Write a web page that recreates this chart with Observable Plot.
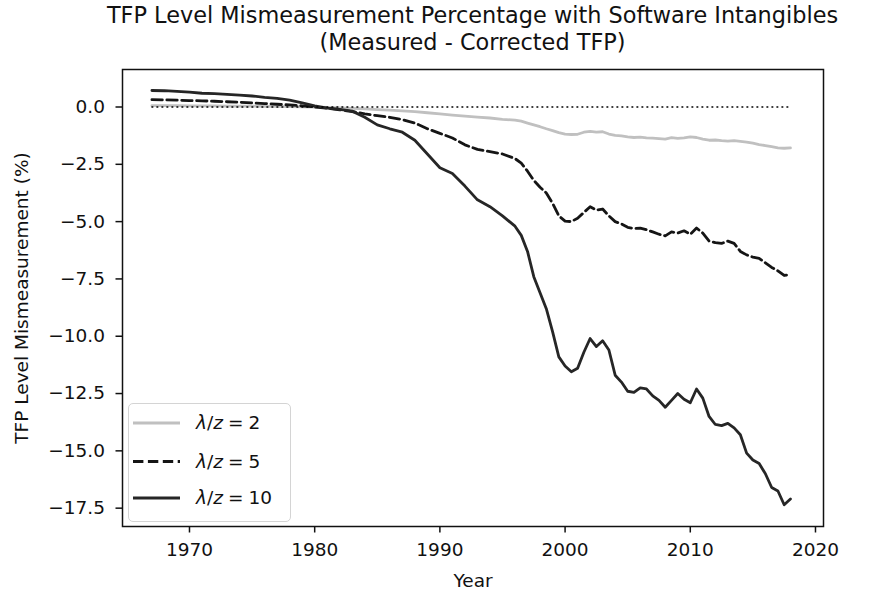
<!DOCTYPE html>
<html>
<head>
<meta charset="utf-8">
<script src="https://cdn.jsdelivr.net/npm/d3@7"></script>
<script src="https://cdn.jsdelivr.net/npm/@observablehq/plot@0.6"></script>
<style>
  html, body { margin: 0; padding: 0; background: #fff; }
  #wrap { position: relative; width: 885px; height: 594px; font-family: "DejaVu Sans", sans-serif; color: #111; }
  #title { position: absolute; left: 0; top: 0; width: 945px; text-align: center; font-size: 22.4px; line-height: 27px; padding-top: 2px; }
  #chart { position: absolute; left: 0; top: 60px; }
  #legend { position: absolute; left: 128px; top: 403px; width: 163px; height: 119px; border: 1.5px solid #d4d4d4; border-radius: 5px; background: rgba(255,255,255,0.8); box-sizing: border-box; }
</style>
</head>
<body>
<div id="wrap">
  <div id="title">TFP Level Mismeasurement Percentage with Software Intangibles<br>(Measured - Corrected TFP)</div>
  <div id="chart"></div>
  <div id="legend"></div>
</div>
<script>
const years = [
  1967, 1968, 1969, 1970, 1971, 1972, 1973, 1974, 1975, 1976,
  1977, 1978, 1979, 1980, 1981, 1982, 1983, 1984, 1985, 1986,
  1987, 1988, 1989, 1990, 1991, 1992, 1993, 1994, 1995,
  1996, 1996.5, 1997, 1997.5, 1998, 1998.5, 1999, 1999.5,
  2000, 2000.5, 2001, 2001.5, 2002, 2002.5, 2003, 2003.5,
  2004, 2004.5, 2005, 2005.5, 2006, 2006.5, 2007, 2007.5,
  2008, 2008.5, 2009, 2009.5, 2010, 2010.5, 2011, 2011.5,
  2012, 2012.5, 2013, 2013.5, 2014, 2014.5, 2015, 2015.5,
  2016, 2016.5, 2017, 2017.5, 2018
];
const lambda2 = [
  0.06, 0.06, 0.06, 0.05, 0.05, 0.05, 0.04, 0.04, 0.04, 0.03,
  0.03, 0.02, 0.01, 0.00, -0.02, -0.04, -0.06, -0.08, -0.11, -0.14,
  -0.17, -0.20, -0.25, -0.30, -0.35, -0.40, -0.44, -0.48, -0.54,
  -0.57, -0.62, -0.70, -0.78, -0.86, -0.95, -1.03, -1.12,
  -1.18, -1.20, -1.19, -1.10, -1.06, -1.10, -1.08, -1.18,
  -1.24, -1.26, -1.30, -1.33, -1.31, -1.35, -1.36, -1.38,
  -1.40, -1.34, -1.37, -1.35, -1.30, -1.33, -1.40, -1.45,
  -1.44, -1.47, -1.49, -1.47, -1.50, -1.53, -1.58, -1.64,
  -1.68, -1.73, -1.78, -1.80, -1.78
];
const lambda5 = [
  0.32, 0.31, 0.30, 0.28, 0.27, 0.25, 0.23, 0.21, 0.18, 0.15,
  0.12, 0.09, 0.05, 0.00, -0.05, -0.12, -0.20, -0.30, -0.38, -0.45,
  -0.55, -0.70, -0.95, -1.15, -1.35, -1.65, -1.85, -1.95, -2.05,
  -2.25, -2.45, -2.80, -3.20, -3.50, -3.75, -4.20, -4.75,
  -4.98, -5.00, -4.85, -4.60, -4.35, -4.50, -4.45, -4.75,
  -5.00, -5.10, -5.25, -5.30, -5.28, -5.35, -5.45, -5.55,
  -5.62, -5.45, -5.50, -5.40, -5.55, -5.28, -5.50, -5.85,
  -5.92, -5.95, -5.85, -5.95, -6.30, -6.45, -6.55, -6.60,
  -6.80, -7.00, -7.15, -7.35, -7.30
];
const lambda10 = [
  0.72, 0.71, 0.68, 0.65, 0.60, 0.58, 0.55, 0.52, 0.48, 0.42,
  0.38, 0.30, 0.18, 0.05, -0.05, -0.10, -0.18, -0.45, -0.78, -0.95,
  -1.10, -1.45, -2.05, -2.65, -2.90, -3.45, -4.05, -4.35, -4.75,
  -5.20, -5.60, -6.30, -7.40, -8.10, -8.80, -9.80, -10.90,
  -11.30, -11.55, -11.40, -10.70, -10.10, -10.45, -10.20, -10.60,
  -11.70, -12.00, -12.40, -12.45, -12.25, -12.30, -12.60, -12.80,
  -13.10, -12.80, -12.50, -12.75, -12.90, -12.30, -12.70, -13.50,
  -13.85, -13.90, -13.80, -14.00, -14.30, -15.10, -15.40, -15.55,
  -16.00, -16.60, -16.75, -17.35, -17.10
];
const seriesLabels = ["2", "5", "10"];
const xTicks = [1970, 1980, 1990, 2000, 2010, 2020];
const yTicks = [0, -2.5, -5, -7.5, -10, -12.5, -15, -17.5];

const toRows = vals => years.map((yr, i) => ({year: yr, value: vals[i]}));
const lineW = 2.8;

const chart = Plot.plot({
  width: 885,
  height: 534,
  marginLeft: 122,
  marginRight: 62,
  marginTop: 9,
  marginBottom: 68,
  style: {fontFamily: "DejaVu Sans", fontSize: "18.5px", color: "#111", background: "transparent"},
  x: {domain: [1964.65, 2020.64]},
  y: {domain: [-18.3, 1.636]},
  marks: [
    Plot.line(toRows(lambda2), {x: "year", y: "value", stroke: "#c0c0c0", strokeWidth: lineW}),
    Plot.line(toRows(lambda5), {x: "year", y: "value", stroke: "#151515", strokeWidth: lineW, strokeDasharray: "10.4,4.5"}),
    Plot.line(toRows(lambda10), {x: "year", y: "value", stroke: "#262626", strokeWidth: lineW}),
    Plot.ruleY([0], {x1: () => years[0], x2: () => years[years.length - 1], stroke: "#000", strokeWidth: 1.6, strokeDasharray: "1.9,3.1"}),
    Plot.frame({stroke: "#111", strokeWidth: 1.5}),
    Plot.axisX({ticks: xTicks, tickFormat: "d", tickSize: 6.5, tickPadding: 10, strokeWidth: 1.5, fontSize: 18.5,
      label: "Year", labelAnchor: "center", labelArrow: "none", labelOffset: 60}),
    Plot.axisY({ticks: yTicks, tickFormat: ".1f", tickSize: 6.5, tickPadding: 11, strokeWidth: 1.5, fontSize: 18.5,
      label: "TFP Level Mismeasurement (%)", labelAnchor: "center", labelArrow: "none", labelOffset: 108})
  ]
});
document.getElementById("chart").appendChild(chart);

// legend
const styles = [
  {stroke: "#c0c0c0", dash: null},
  {stroke: "#151515", dash: "10.4,4.5"},
  {stroke: "#262626", dash: null}
];
const rowsY = [20, 58.5, 95];
let svg = `<svg width="163" height="119" xmlns="http://www.w3.org/2000/svg" style="position:absolute;left:-1.5px;top:-1.5px">`;
seriesLabels.forEach((lab, i) => {
  const s = styles[i];
  svg += `<line x1="5" x2="52" y1="${rowsY[i]}" y2="${rowsY[i]}" stroke="${s.stroke}" stroke-width="${lineW}" ${s.dash ? `stroke-dasharray="${s.dash}"` : ""}/>`;
  svg += `<text x="68" y="${rowsY[i]}" dy="0.35em" font-family="DejaVu Sans" font-size="18.5" fill="#111"><tspan font-style="italic">λ</tspan>/<tspan font-style="italic">z</tspan><tspan dx="5">=</tspan><tspan dx="5">${lab}</tspan></text>`;
});
svg += `</svg>`;
document.getElementById("legend").innerHTML = svg;
</script>
</body>
</html>
